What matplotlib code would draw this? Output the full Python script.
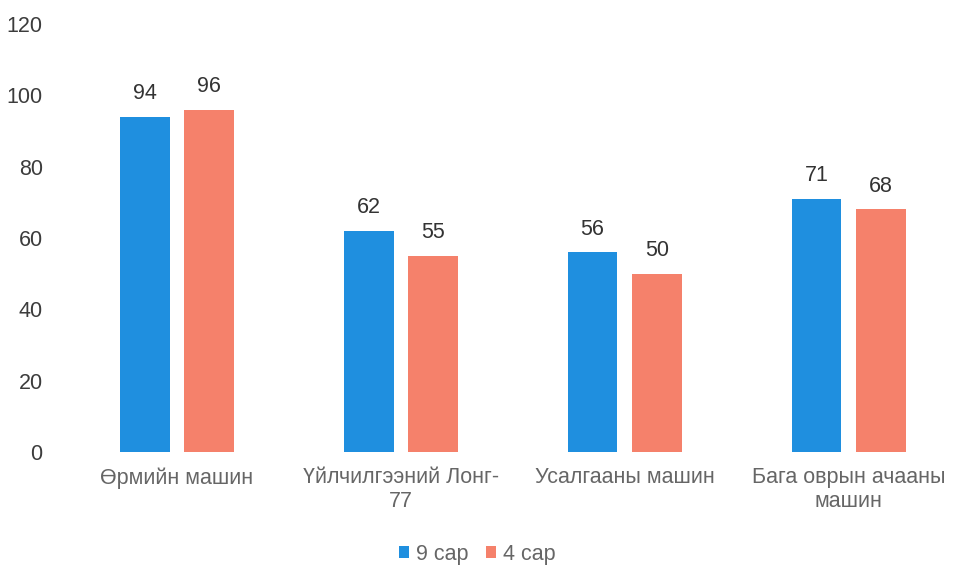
import numpy as np
import matplotlib.pyplot as plt

plt.rcParams['font.family'] = ['Liberation Sans', 'DejaVu Sans']

categories = ['Өрмийн машин', 'Үйлчилгээний Лонг-\n77', 'Усалгааны машин', 'Бага оврын ачааны\nмашин']
series_names = ['9 сар', '4 сар']
sep_vals = [94, 62, 56, 71]
apr_vals = [96, 55, 50, 68]
yticks = [0, 20, 40, 60, 80, 100, 120]

blue = '#1f8fdf'
orange = '#f5816b'

fig = plt.figure(figsize=(9.54, 5.70), dpi=100)
ax = fig.add_axes([0.068, 0.207, 0.932, 0.751])

x = np.arange(len(categories))
w = 0.223
off = 0.144
b1 = ax.bar(x - off, sep_vals, w, color=blue, label=series_names[0])
b2 = ax.bar(x + off, apr_vals, w, color=orange, label=series_names[1])

for bars, vals in [(b1, sep_vals), (b2, apr_vals)]:
    for b, v in zip(bars, vals):
        ax.text(b.get_x() + b.get_width() / 2, v + 3.5, str(v), ha='center', va='bottom',
                fontsize=15.5, color='#333333')

ax.set_xlim(-0.5, 3.47)
ax.set_ylim(0, 120)
ax.set_yticks(yticks)
ax.set_xticks(x)
ax.set_xticklabels(categories, fontsize=15.5, color='#666666', linespacing=1.15)
ax.tick_params(axis='y', labelsize=15.5, labelcolor='#3c3c3c', length=0, pad=16)
ax.tick_params(axis='x', length=0, pad=11)
for s in ax.spines.values():
    s.set_visible(False)

fig.legend(handles=[b1, b2], loc='center', bbox_to_anchor=(0.5, 0.028), ncol=2, frameon=False,
           fontsize=15.5, labelcolor='#666666', handlelength=0.5, handleheight=0.5,
           handletextpad=0.3, columnspacing=0.8)

fig.savefig('out.png', dpi=100)
